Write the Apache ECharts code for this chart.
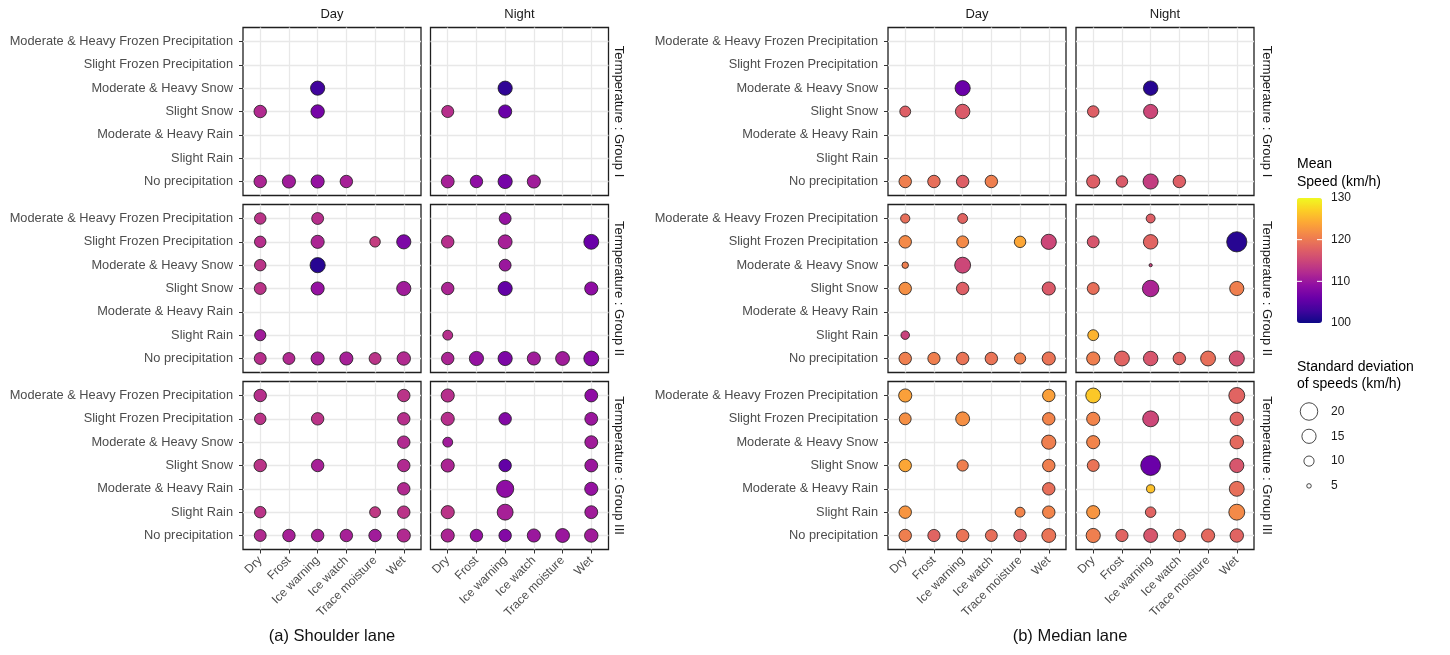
<!DOCTYPE html>
<html>
<head>
<meta charset="utf-8">
<script src="https://cdn.jsdelivr.net/npm/echarts@6/dist/echarts.min.js"></script>
<style>
html,body{margin:0;padding:0;background:#fff;}
#chart{width:1450px;height:655px;}
</style>
</head>
<body>
<div id="chart"></div>
<script>
// ---- categories and labels ----
const conditions = ['Dry', 'Frost', 'Ice warning', 'Ice watch', 'Trace moisture', 'Wet'];
const precipitation = ['No precipitation', 'Slight Rain', 'Moderate & Heavy Rain', 'Slight Snow',
  'Moderate & Heavy Snow', 'Slight Frozen Precipitation', 'Moderate & Heavy Frozen Precipitation'];
const periods = ['Day', 'Night'];
const groups = ['Termperature : Group I', 'Termperature : Group II', 'Termperature : Group III'];
const lanes = ['(a) Shoulder lane', '(b) Median lane'];
const speedTicks = [130, 120, 110, 100];
const sdLegend = [20, 15, 10, 5];

// ---- observations: [condition index, precipitation index, mean speed (km/h), sd of speeds (km/h)] ----
const shoulderDay1 = [[2,4,103,15.0],[0,3,112,12.7],[2,3,107,14.0],[0,0,111.5,12.7],[1,0,110.5,13.6],[2,0,109.5,13.6],[3,0,111,12.7]];
const shoulderNight1 = [[2,4,102,15.0],[0,3,112.5,12.2],[2,3,106,13.6],[0,0,111,13.2],[1,0,109,12.7],[2,0,107,15.0],[3,0,110.5,13.6]];
const shoulderDay2 = [[0,6,113,11.5],[2,6,112.5,12.0],[0,5,112.5,11.5],[2,5,111.5,13.6],[4,5,114,10.4],[5,5,107.5,15.0],
  [0,4,113,11.5],[2,4,101.5,16.4],[0,3,113,12.0],[2,3,109.5,13.6],[5,3,110.5,15.0],[0,1,110.5,11.2],
  [0,0,112.5,12.0],[1,0,112,12.0],[2,0,111,13.6],[3,0,111,13.6],[4,0,113,12.0],[5,0,112,14.0]];
const shoulderNight2 = [[2,6,109.5,12.0],[0,5,112.5,12.7],[2,5,111,14.6],[5,5,106,16.0],[2,4,110,12.0],[0,3,111.5,12.7],
  [2,3,105.5,15.0],[5,3,109,13.6],[0,1,112.5,9.7],[0,0,111.5,12.7],[1,0,109.5,15.0],[2,0,107.5,15.0],
  [3,0,110.5,13.6],[4,0,110.5,14.6],[5,0,108.5,16.0]];
const shoulderDay3 = [[0,6,112.5,12.7],[5,6,113,12.7],[0,5,113,11.5],[2,5,113,12.7],[5,5,112.5,12.7],[5,4,112,12.7],
  [0,3,113,12.7],[2,3,111,12.7],[5,3,112,12.7],[5,2,112,12.7],[0,1,113,11.5],[4,1,113.5,10.8],[5,1,113,12.7],
  [0,0,112,12.0],[1,0,111,12.7],[2,0,111,12.7],[3,0,111,12.7],[4,0,110.5,12.7],[5,0,112,13.6]];
const shoulderNight3 = [[0,6,112.5,13.6],[5,6,109,13.2],[0,5,112.5,13.6],[2,5,108,12.7],[5,5,110,13.2],[0,4,110.5,9.7],
  [5,4,110.5,13.2],[0,3,111.5,13.6],[2,3,105.5,12.7],[5,3,110,13.2],[2,2,109,19.5],[5,2,109.5,13.6],
  [0,1,113,13.6],[2,1,111,17.5],[5,1,110.5,13.2],[0,0,111.5,13.6],[1,0,109.5,12.7],[2,0,108,12.7],
  [3,0,110,13.6],[4,0,110,14.6],[5,0,110.5,14.0]];
const medianDay1 = [[2,4,106,16.4],[0,3,117.5,10.8],[2,3,117,15.4],[0,0,120.5,12.7],[1,0,119,12.7],[2,0,117.5,12.7],[3,0,120.5,12.7]];
const medianNight1 = [[2,4,101.5,15.4],[0,3,117.5,11.5],[2,3,115,15.0],[0,0,117.5,13.6],[1,0,117,11.5],[2,0,114,16.4],[3,0,117.5,12.7]];
const medianDay2 = [[0,6,119,9.0],[2,6,118,9.7],[0,5,121.5,12.7],[2,5,121.5,12.0],[4,5,124,11.5],[5,5,115,16.4],
  [0,4,120.5,6.5],[2,4,115,17.5],[0,3,122,12.7],[2,3,117.5,12.7],[5,3,117,13.6],[0,1,114.5,8.3],
  [0,0,120.5,12.7],[1,0,120.5,12.4],[2,0,119.5,12.7],[3,0,119.5,12.7],[4,0,120.5,11.2],[5,0,119.5,13.6]];
const medianNight2 = [[2,6,117.5,8.7],[0,5,116.5,12.0],[2,5,118,15.4],[5,5,101.5,24.7],[2,4,114.5,4.2],[0,3,119,12.0],
  [2,3,111.5,18.4],[5,3,120.5,15.0],[0,1,125,10.8],[0,0,120.5,13.6],[1,0,118,16.0],[2,0,116.5,15.4],
  [3,0,118,12.7],[4,0,119,16.0],[5,0,116,16.4]];
const medianDay3 = [[0,6,123.5,13.6],[5,6,123.5,12.7],[0,5,122,12.0],[2,5,122,14.6],[5,5,121,12.7],[5,4,120.5,15.0],
  [0,3,124,12.7],[2,3,120.5,11.2],[5,3,120.5,12.7],[5,2,119,12.7],[0,1,122.5,12.7],[4,1,121,9.7],[5,1,121,12.7],
  [0,0,120.5,12.7],[1,0,118,12.4],[2,0,119.5,12.7],[3,0,119,12.0],[4,0,118,12.7],[5,0,119.5,14.6]];
const medianNight3 = [[0,6,126.5,16.0],[5,6,118,17.5],[0,5,121,13.6],[2,5,115,17.5],[5,5,118,14.0],[0,4,121,13.6],
  [5,4,118.5,14.0],[0,3,119.5,12.0],[2,3,106,24.1],[5,3,116.5,15.0],[2,2,126,8.0],[5,2,119,16.0],
  [0,1,122.5,13.6],[2,1,118,10.4],[5,1,121.5,17.5],[0,0,120.5,15.0],[1,0,118,12.4],[2,0,116.5,14.6],
  [3,0,118.5,12.7],[4,0,118.5,13.6],[5,0,118,14.0]];

// panels[lane][row][period]
const panels = [
  [[shoulderDay1, shoulderNight1], [shoulderDay2, shoulderNight2], [shoulderDay3, shoulderNight3]],
  [[medianDay1, medianNight1], [medianDay2, medianNight2], [medianDay3, medianNight3]]
];

// ---- layout ----
const FONT = "'Liberation Sans', Arial, Helvetica, sans-serif";
const panelLeft = [[243, 430.5], [888, 1076]];
const panelW = 178;
const rowTop = [27.5, 204.5, 381.5];
const panelH = 168;
const stripX = [619, 1267];
const titleX = [332, 1070];
const plasma = ['#0d0887','#41049d','#6a00a8','#8f0da4','#b12a90','#cc4778','#e16462','#f2844b','#fca636','#fcce25','#f0f921'];
const speedMin = 100, speedMax = 130;
const BORDER_W = 0.8;

// area-style size scale: visible diameter (px) for a standard deviation value
function diameter(sd) {
  return -3.67 + 5.18 * Math.sqrt(Math.max(sd - 2, 0.05));
}

const grids = [], xAxes = [], yAxes = [], series = [], graphics = [];
let k = 0;
for (let l = 0; l < 2; l++) {
  for (let r = 0; r < 3; r++) {
    for (let p = 0; p < 2; p++) {
      const left = panelLeft[l][p], top = rowTop[r];
      grids.push({
        left: left, top: top, width: panelW, height: panelH,
        show: true, borderColor: '#1f1f1f', borderWidth: 1.3, backgroundColor: '#fff', containLabel: false
      });
      const bottomRow = r === 2, leftCol = p === 0;
      xAxes.push({
        type: 'value', gridIndex: k, position: 'bottom', min: -0.6, max: conditions.length - 0.4,
        minInterval: 1, maxInterval: 1,
        axisLine: { show: false, onZero: false },
        axisTick: { show: bottomRow, length: 4, customValues: conditions.map((_, i) => i), lineStyle: { color: '#333', width: 1 } },
        axisLabel: {
          show: bottomRow, customValues: conditions.map((_, i) => i), rotate: 45, margin: 9,
          color: '#4d4d4d', fontSize: 12, fontFamily: FONT,
          formatter: v => conditions[Math.round(v)] || ''
        },
        splitLine: { show: true, lineStyle: { color: '#e8e8e8', width: 1.3 } }
      });
      yAxes.push({
        type: 'value', gridIndex: k, position: 'left', min: -0.6, max: precipitation.length - 0.4,
        minInterval: 1, maxInterval: 1,
        axisLine: { show: false, onZero: false },
        axisTick: { show: leftCol, length: 4, customValues: precipitation.map((_, i) => i), lineStyle: { color: '#333', width: 1 } },
        axisLabel: {
          show: leftCol, customValues: precipitation.map((_, i) => i), margin: 10,
          color: '#4d4d4d', fontSize: 12.8, fontFamily: FONT,
          formatter: v => precipitation[Math.round(v)] || ''
        },
        splitLine: { show: true, lineStyle: { color: '#e8e8e8', width: 1.3 } }
      });
      series.push({
        type: 'scatter', xAxisIndex: k, yAxisIndex: k,
        data: panels[l][r][p],
        symbol: 'circle',
        symbolSize: v => diameter(v[3]) - BORDER_W,
        itemStyle: { borderColor: '#1a1a1a', borderWidth: BORDER_W, opacity: 1 },
        emphasis: { disabled: true },
        z: 3
      });
      // strip label on top of the first row
      if (r === 0) {
        graphics.push({
          type: 'text', x: left + panelW / 2, y: 14,
          style: { text: periods[p], fill: '#1a1a1a', font: '13px ' + FONT, textAlign: 'center', textVerticalAlign: 'middle' }
        });
      }
      k++;
    }
    // row strip on the right, reading top to bottom
    graphics.push({
      type: 'text', x: stripX[l], y: rowTop[r] + panelH / 2, rotation: -Math.PI / 2,
      style: { text: groups[r], fill: '#1a1a1a', font: '13px ' + FONT, textAlign: 'center', textVerticalAlign: 'middle' }
    });
  }
  graphics.push({
    type: 'text', x: titleX[l], y: 636,
    style: { text: lanes[l], fill: '#111', font: '16.5px ' + FONT, textAlign: 'center', textVerticalAlign: 'middle' }
  });
}

// ---- colour legend ----
const barLeft = 1297, barTop = 198, barW = 25, barH = 125;
graphics.push({
  type: 'text', x: barLeft, y: 164,
  style: { text: 'Mean', fill: '#000', font: '14px ' + FONT, textAlign: 'left', textVerticalAlign: 'middle' }
});
graphics.push({
  type: 'text', x: barLeft, y: 182,
  style: { text: 'Speed (km/h)', fill: '#000', font: '14px ' + FONT, textAlign: 'left', textVerticalAlign: 'middle' }
});
speedTicks.forEach(v => {
  const y = barTop + (speedMax - v) / (speedMax - speedMin) * barH;
  graphics.push({
    type: 'text', x: barLeft + barW + 9, y: y,
    style: { text: String(v), fill: '#1a1a1a', font: '12px ' + FONT, textAlign: 'left', textVerticalAlign: 'middle' }
  });
  if (v !== speedMax && v !== speedMin) {
    graphics.push({ type: 'line', z: 100, shape: { x1: barLeft, y1: y, x2: barLeft + 5, y2: y }, style: { stroke: '#fff', lineWidth: 1 } });
    graphics.push({ type: 'line', z: 100, shape: { x1: barLeft + barW - 5, y1: y, x2: barLeft + barW, y2: y }, style: { stroke: '#fff', lineWidth: 1 } });
  }
});

// ---- size legend ----
graphics.push({
  type: 'text', x: barLeft, y: 367,
  style: { text: 'Standard deviation', fill: '#000', font: '14px ' + FONT, textAlign: 'left', textVerticalAlign: 'middle' }
});
graphics.push({
  type: 'text', x: barLeft, y: 384,
  style: { text: 'of speeds (km/h)', fill: '#000', font: '14px ' + FONT, textAlign: 'left', textVerticalAlign: 'middle' }
});
sdLegend.forEach((v, i) => {
  const cy = 411.5 + i * 24.8;
  graphics.push({
    type: 'circle', shape: { cx: 1309, cy: cy, r: (diameter(v) - BORDER_W) / 2 },
    style: { fill: '#fff', stroke: '#1a1a1a', lineWidth: BORDER_W }
  });
  graphics.push({
    type: 'text', x: 1331, y: cy,
    style: { text: String(v), fill: '#1a1a1a', font: '12px ' + FONT, textAlign: 'left', textVerticalAlign: 'middle' }
  });
});

const chart = echarts.init(document.getElementById('chart'), null, { renderer: 'canvas' });
chart.setOption({
  animation: false,
  backgroundColor: '#fff',
  grid: grids,
  xAxis: xAxes,
  yAxis: yAxes,
  visualMap: {
    type: 'continuous',
    min: speedMin, max: speedMax,
    dimension: 2,
    seriesIndex: series.map((_, i) => i),
    inRange: { color: plasma },
    calculable: false,
    hoverLink: false,
    orient: 'vertical',
    left: barLeft, top: barTop,
    itemWidth: barW, itemHeight: barH,
    padding: 0,
    text: null,
    showLabel: false
  },
  series: series,
  graphic: graphics
});
</script>
</body>
</html>
